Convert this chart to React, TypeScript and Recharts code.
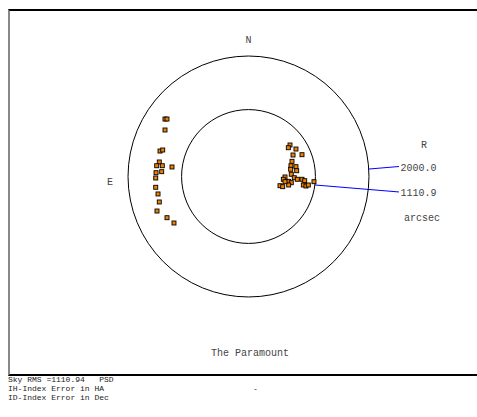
import {ScatterChart, Scatter, XAxis, YAxis, ReferenceDot, ReferenceLine} from 'recharts';

// pointing offsets in arcsec (east-west, north-south)
const eastX = [-1386, -1353, -1386, -1469, -1424, -1481, -1524, -1431, -1270, -1535, -1441, -1540, -1540, -1502, -1481, -1519, -1353, -1237];
const eastY = [954, 954, 772, 423, 440, 241, 179, 179, 158, 63, 80, -25, -179, -290, -423, -573, -684, -772];
const westX = [689, 661, 788, 739, 888, 722, 705, 788, 700, 800, 710, 606, 578, 760, 810, 888, 933, 667, 710, 523, 568, 667, 910, 954, 993, 1087, 606];
const westY = [523, 478, 456, 357, 362, 252, 179, 163, 120, 96, 37, -8, -46, -20, -46, -46, -70, -80, -103, -153, -169, -141, -141, -158, -141, -86, -86];

const rings = [2000.0, 1110.9];
const ringLabels = ['2000.0', '1110.9'];
const footer = ['Sky RMS =1110.94   PSD', 'IH-Index Error in HA', 'ID-Index Error in Dec'];

const W = 477;
const H = 417;
const DOMAIN = 2500;
const PLOT = 301.2; // px across the plot square
const pxPerArcsec = PLOT / (2 * DOMAIN);
const mono = '"Liberation Mono", "DejaVu Sans Mono", monospace';

const points = [...eastX.map((x, i) => ({x, y: eastY[i]})), ...westX.map((x, i) => ({x, y: westY[i]}))];

const Square = (p: any) => (
  <rect x={p.cx - 2} y={p.cy - 2} width={4} height={4} fill="#f08000" stroke="#000" strokeWidth={0.9} />
);

const lbl = (value: string) => ({value, position: 'center' as const, fill: '#444', fontSize: 10, fontFamily: mono});

export default function App() {
  return (
    <div style={{position: 'absolute', left: 0, top: 0, width: W, height: H, background: '#fff'}}>
      {/* frame */}
      <div style={{position: 'absolute', left: 8, top: 9, width: 480, height: 363, borderTop: '2px solid #000', borderBottom: '2px solid #000', borderLeft: '2px solid #888'}} />
      <div style={{position: 'absolute', left: 0, top: 0}}>
        <ScatterChart width={W} height={H} margin={{top: 25.9, right: 77.9, bottom: 89.9, left: 97.9}}>
          <XAxis type="number" dataKey="x" domain={[-DOMAIN, DOMAIN]} hide />
          <YAxis type="number" dataKey="y" domain={[-DOMAIN, DOMAIN]} hide />
          {rings.map((r) => (
            <ReferenceDot key={r} x={0} y={0} r={r * pxPerArcsec} fill="none" stroke="#000" strokeWidth={1} />
          ))}
          <ReferenceLine segment={[{x: 2000, y: 124}, {x: 2498, y: 166}]} stroke="#0000ff" strokeWidth={1} />
          <ReferenceLine segment={[{x: 1104, y: -141}, {x: 2498, y: -257}]} stroke="#0000ff" strokeWidth={1} />
          <Scatter data={points} shape={Square} isAnimationActive={false} />
          <ReferenceDot x={0} y={2282} r={0} fill="none" stroke="none" ifOverflow="visible" label={lbl('N')} />
          <ReferenceDot x={-2299} y={-75} r={0} fill="none" stroke="none" ifOverflow="visible" label={lbl('E')} />
          <ReferenceDot x={2913} y={540} r={0} fill="none" stroke="none" ifOverflow="visible" label={lbl('R')} />
          <ReferenceDot x={2822} y={158} r={0} fill="none" stroke="none" ifOverflow="visible" label={lbl(ringLabels[0])} />
          <ReferenceDot x={2822} y={-257} r={0} fill="none" stroke="none" ifOverflow="visible" label={lbl(ringLabels[1])} />
          <ReferenceDot x={2880} y={-672} r={0} fill="none" stroke="none" ifOverflow="visible" label={lbl('arcsec')} />
          <ReferenceDot x={25} y={-2913} r={0} fill="none" stroke="none" ifOverflow="visible" label={lbl('The Paramount')} />
        </ScatterChart>
      </div>
      {footer.map((t, i) => (
        <div key={t} style={{position: 'absolute', left: 8, top: 375 + i * 9, fontFamily: mono, fontSize: 8, lineHeight: '9px', color: '#222', whiteSpace: 'pre'}}>{t}</div>
      ))}
      <div style={{position: 'absolute', left: 253, top: 384, fontFamily: mono, fontSize: 8, lineHeight: '9px', color: '#222'}}>-</div>
    </div>
  );
}
